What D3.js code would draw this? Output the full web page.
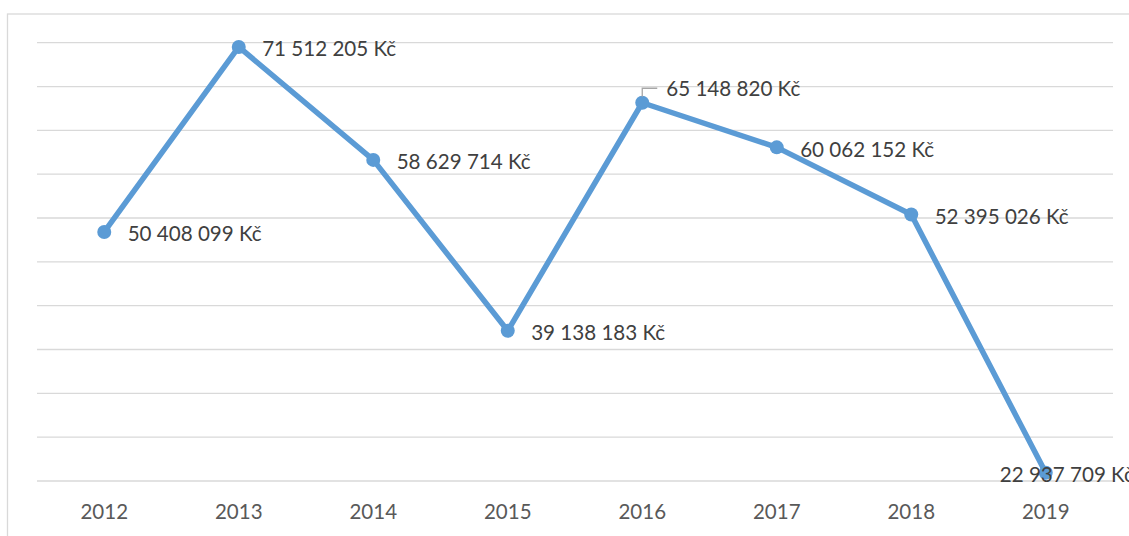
<!DOCTYPE html>
<html>
<head>
<meta charset="utf-8">
<script src="https://cdn.jsdelivr.net/npm/d3@7"></script>
<style>
  html, body { margin: 0; padding: 0; background: #ffffff; }
  svg { display: block; }
</style>
</head>
<body>
<svg id="chart" width="1129" height="536"></svg>
<script>
// Yearly totals in CZK
const years = ["2012", "2013", "2014", "2015", "2016", "2017", "2018", "2019"];
const amounts = [50408099, 71512205, 58629714, 39138183, 65148820, 60062152, 52395026, 22937709];

// Value axis: bounds and gridline step (no tick labels are drawn)
const yMin = 22000000;
const yMax = 72000000;
const yStep = 5000000;

const W = 1129, H = 536;
const plot = { left: 37, right: 1113, top: 42.7, bottom: 481 };

const svg = d3.select("#chart");

const czk = d3.formatLocale({ decimal: ",", thousands: " ", grouping: [3], currency: ["", " Kč"] });
const fmt = v => czk.format(",.0f")(v) + " Kč";

const x = d3.scaleBand().domain(years).range([plot.left, plot.right]).padding(0);
const cx = d => x(d) + x.bandwidth() / 2;
const y = d3.scaleLinear().domain([yMin, yMax]).range([plot.bottom, plot.top]);

// Chart frame
svg.append("rect")
  .attr("x", 7.5).attr("y", 14)
  .attr("width", W + 20).attr("height", H + 20)
  .attr("fill", "none").attr("stroke", "#d9d9d9").attr("stroke-width", 1.3);

// Horizontal gridlines
const grid = d3.range(yMin, yMax + 1, yStep);
svg.append("g").selectAll("line").data(grid).join("line")
  .attr("x1", plot.left).attr("x2", plot.right)
  .attr("y1", d => y(d)).attr("y2", d => y(d))
  .attr("stroke", "#d9d9d9").attr("stroke-width", 1.3);

// Category axis labels
const xAxis = d3.axisBottom(x).tickSize(0).tickPadding(0);
const gx = svg.append("g").attr("transform", `translate(0,${plot.bottom})`).call(xAxis);
gx.select(".domain").remove();
gx.selectAll("text")
  .attr("dy", null).attr("y", 38)
  .attr("font-family", "Lato, 'Open Sans', sans-serif")
  .attr("font-size", 20.5)
  .attr("fill", "#595959");

const pts = years.map((yr, i) => ({ year: yr, value: amounts[i] }));

// Series line
const line = d3.line().x(d => cx(d.year)).y(d => y(d.value));
svg.append("path").datum(pts)
  .attr("d", line)
  .attr("fill", "none")
  .attr("stroke", "#5b9bd5")
  .attr("stroke-width", 5.5)
  .attr("stroke-linejoin", "round");

// Markers
svg.append("g").selectAll("circle").data(pts).join("circle")
  .attr("cx", d => cx(d.year)).attr("cy", d => y(d.value))
  .attr("r", 7).attr("fill", "#5b9bd5");

// Data labels: default to the right of the point; a few are nudged
const nudge = {
  "2016": { dx: 24, dy: -15, leader: true },
  "2019": { dx: -46, dy: 1 }
};
const lg = svg.append("g");
pts.forEach(d => {
  const px = cx(d.year), py = y(d.value);
  const n = nudge[d.year] || { dx: 23.4, dy: 1.5 };
  if (n.leader) {
    lg.append("path")
      .attr("d", `M${px},${py - 6} V${py + n.dy + 0.5} H${px + n.dx - 9}`)
      .attr("fill", "none").attr("stroke", "#a6a6a6").attr("stroke-width", 1.3);
  }
  lg.append("text")
    .attr("x", px + n.dx).attr("y", py + n.dy)
    .attr("dominant-baseline", "central")
    .attr("font-family", "Lato, 'Open Sans', sans-serif")
    .attr("font-size", 20.6)
    .attr("fill", "#404040")
    .text(fmt(d.value));
});
</script>
</body>
</html>
